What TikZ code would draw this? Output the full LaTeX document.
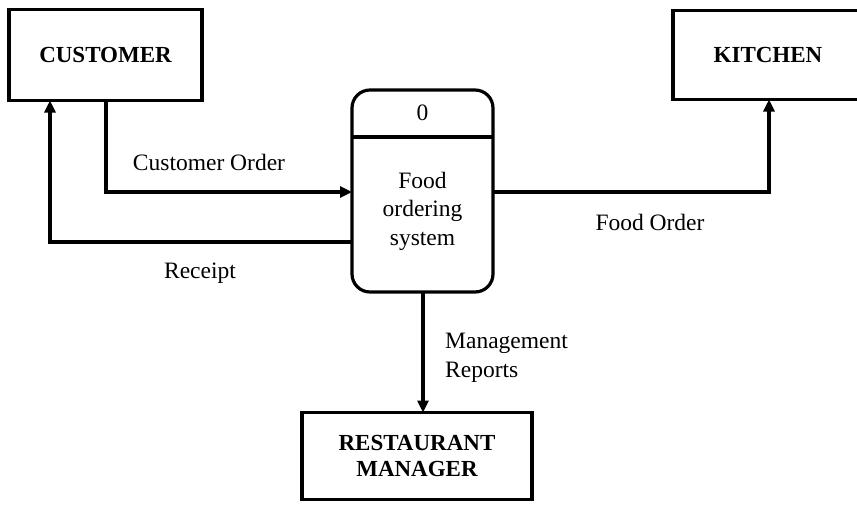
\documentclass[tikz,border=0pt]{standalone}
\usepackage{fontspec}
\setmainfont{Liberation Serif}
\usetikzlibrary{arrows.meta}
\begin{document}
\begin{tikzpicture}[x=1pt,y=-1pt,
  ent/.style={draw, line width=3.2pt, outer sep=0pt, inner sep=0pt, font=\fontsize{23}{27}\selectfont\bfseries, align=center},
  proc/.style={draw, line width=3.2pt, outer sep=0pt, inner sep=0pt, rounded corners=18pt},
  flow/.style={line width=3.2pt, -{Triangle[length=12pt,width=11pt]}},
  lbl/.style={font=\fontsize{23.5}{29}\selectfont, inner sep=0pt}]
\useasboundingbox (0,0) rectangle (857,504);
\begin{scope}
\clip (0,0) rectangle (857,504);
\node[ent, minimum width=193pt, minimum height=91pt] (cust) at (105.5,55) {CUSTOMER};
\node[ent, minimum width=190pt, minimum height=89pt] (kit) at (768,55) {KITCHEN};
\node[ent, minimum width=230pt, minimum height=87pt] (mgr) at (417,456) {RESTAURANT\\[-1pt]MANAGER};
\end{scope}
\node[proc, minimum width=141pt, minimum height=202pt] (proc) at (422.5,191) {};
\draw[line width=3.2pt] (proc.west |- 0,137) -- (proc.east |- 0,137);
\node[lbl] (pid) at (422.5,113) {0};
\node[lbl, align=center, font=\fontsize{23.5}{28.5}\selectfont] (pname) at (422.5,211) {Food\\ordering\\system};
\coordinate (c1) at (106,0);
\coordinate (c2) at (50,0);
\coordinate (k1) at (769,0);
\coordinate (m1) at (423,0);
\coordinate (y1) at (0,192);
\coordinate (y2) at (0,242);
\draw[flow] (cust.south -| c1) |- (proc.west |- y1);
\draw[flow] (proc.west |- y2) -| (cust.south -| c2);
\draw[flow] (proc.east |- y1) -| (kit.south -| k1);
\draw[flow] (proc.south -| m1) -- (mgr.north -| m1);
\node[lbl] (l1) at (209,162) {Customer Order};
\node[lbl] (l2) at (200,273) {Receipt};
\node[lbl] (l3) at (650,222) {Food Order};
\node[lbl, anchor=west, align=left] (l4) at (445,358) {Management\\Reports};
\end{tikzpicture}
\end{document}
